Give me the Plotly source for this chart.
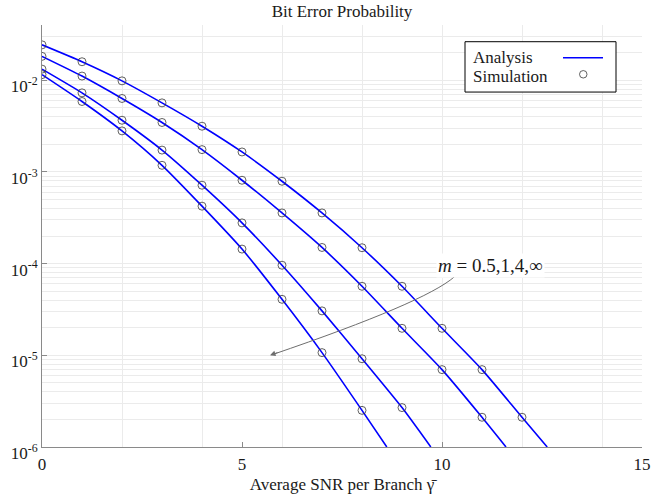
import plotly.graph_objects as go
import numpy as np

# ---------------- data ----------------
snr_sim = list(range(0, 13))

m_labels = ["m = 0.5", "m = 1", "m = 4", "m = ∞"]

# simulation points (circles)
sim_m05 = [0.0243, 0.0159, 0.00984, 0.00566, 0.00315, 0.00165, 7.91e-4, 3.57e-4,
           1.49e-4, 5.66e-5, 1.97e-5, 6.98e-6, 2.11e-6]
sim_m1 = [0.0182, 0.0111, 0.00632, 0.00346, 0.00175, 8.11e-4, 3.57e-4, 1.50e-4,
          5.66e-5, 1.97e-5, 6.98e-6, 2.11e-6]
sim_m4 = [0.0132, 0.00728, 0.00366, 0.00173, 7.16e-4, 2.78e-4, 9.6e-5, 3.05e-5,
          9.17e-6, 2.69e-6]
sim_inf = [0.0115, 0.00586, 0.00280, 0.00118, 4.23e-4, 1.44e-4, 4.08e-5, 1.07e-5,
           2.51e-6]

# analysis curves (last point where each leaves the plot)
ana_x_m05 = [0, 1, 2, 3, 4, 5, 6, 7, 8, 9, 10, 11, 12, 12.63]
ana_y_m05 = [0.0243, 0.0159, 0.00984, 0.00566, 0.00315, 0.00165, 7.91e-4, 3.57e-4,
             1.49e-4, 5.66e-5, 1.97e-5, 6.98e-6, 2.11e-6, 1.0e-6]
ana_x_m1 = [0, 1, 2, 3, 4, 5, 6, 7, 8, 9, 10, 11, 11.6]
ana_y_m1 = [0.0182, 0.0111, 0.00632, 0.00346, 0.00175, 8.11e-4, 3.57e-4, 1.50e-4,
            5.66e-5, 1.97e-5, 6.98e-6, 2.11e-6, 1.0e-6]
ana_x_m4 = [0, 1, 2, 3, 4, 5, 6, 7, 8, 9, 9.72]
ana_y_m4 = [0.0132, 0.00728, 0.00366, 0.00173, 7.16e-4, 2.78e-4, 9.6e-5, 3.05e-5,
            9.17e-6, 2.69e-6, 1.0e-6]
ana_x_inf = [0, 1, 2, 3, 4, 5, 6, 7, 8, 8.62]
ana_y_inf = [0.0115, 0.00586, 0.00280, 0.00118, 4.23e-4, 1.44e-4, 4.08e-5, 1.07e-5,
             2.51e-6, 1.0e-6]

x_tick_vals = [0, 5, 10, 15]
y_tick_vals = [1e-6, 1e-5, 1e-4, 1e-3, 1e-2]
y_tick_text = ["10<sup>-6</sup>", "10<sup>-5</sup>", "10<sup>-4</sup>",
               "10<sup>-3</sup>", "10<sup>-2</sup>"]

title_text = "Bit Error Probability"
x_title = "Average SNR per Branch γ\u0304"
annot_text = "<i>m</i> = 0.5,1,4,∞"
legend_names = ["Analysis", "Simulation"]

# ---------------- figure ----------------
FONT = "Liberation Serif"
BLUE = "#0000ff"
W, H = 654, 498
ML, MR, MT, MB = 42, 12, 25, 51.3
PW, PH = W - ML - MR, H - MT - MB

def px(x):
    return (x - ML) / PW

def py(y):
    return (H - MB - y) / PH

fig = go.Figure()

ana = [(ana_x_m05, ana_y_m05), (ana_x_m1, ana_y_m1), (ana_x_m4, ana_y_m4), (ana_x_inf, ana_y_inf)]
sims = [sim_m05, sim_m1, sim_m4, sim_inf]

for (ax_, ay_), lab in zip(ana, m_labels):
    fig.add_trace(go.Scatter(x=ax_, y=ay_, mode="lines", name=lab,
                             line=dict(color=BLUE, width=1.6, shape="spline", smoothing=0.6),
                             showlegend=False, hoverinfo="skip"))
for s, lab in zip(sims, m_labels):
    fig.add_trace(go.Scatter(x=snr_sim[:len(s)], y=s, mode="markers", name=lab,
                             marker=dict(symbol="circle-open", size=8,
                                         color="#3a3a3a", line=dict(width=0.8)),
                             showlegend=False))

minor_y = [k * 10.0 ** e for e in range(-6, -1) for k in range(1, 10)]
minor_y = [v for v in minor_y if v <= 0.0401]

fig.update_layout(
    width=W, height=H,
    margin=dict(l=ML, r=MR, t=MT, b=MB, autoexpand=False),
    paper_bgcolor="white", plot_bgcolor="white",
    font=dict(family=FONT, size=17, color="#1a1a1a"),
    title=dict(text=title_text, x=342 / W, xanchor="center", xref="container",
               y=1 - 5 / H, yanchor="top", yref="container", font=dict(size=17)),
    xaxis=dict(range=[0, 15], tickvals=x_tick_vals, showgrid=False, zeroline=False,
               automargin=False,
               showline=True, linecolor="#8a8a8a", linewidth=1,
               ticks="inside", ticklen=5, tickcolor="#8a8a8a",
               ticklabelstandoff=2,
               minor=dict(tick0=0, dtick=2, showgrid=True, gridcolor="#ebebeb",
                          gridwidth=1, ticks=""),
               title=dict(text=x_title, standoff=4, font=dict(size=17)),
               tickfont=dict(size=17)),
    yaxis=dict(type="log", range=[-6, np.log10(0.04)], tickvals=y_tick_vals,
               ticktext=y_tick_text, showgrid=True, gridcolor="#ebebeb",
               automargin=False,
               zeroline=False, showline=True, linecolor="#8a8a8a", linewidth=1,
               ticks="inside", ticklen=5, tickcolor="#8a8a8a",
               ticklabelshift=6,
               minor=dict(tickvals=minor_y, showgrid=True, gridcolor="#ebebeb",
                          gridwidth=1, ticks=""),
               tickfont=dict(size=17)),
)

# legend box (manual, symbols on the right as in the reference)
fig.add_shape(type="rect", xref="paper", yref="paper",
              x0=px(465), x1=px(616), y0=py(92), y1=py(41.7),
              line=dict(color="black", width=1), fillcolor="white", layer="above")
fig.add_annotation(xref="paper", yref="paper", x=px(471), y=py(57), text=legend_names[0],
                   showarrow=False, xanchor="left", yanchor="middle", font=dict(size=17))
fig.add_annotation(xref="paper", yref="paper", x=px(471), y=py(76), text=legend_names[1],
                   showarrow=False, xanchor="left", yanchor="middle", font=dict(size=17))
fig.add_shape(type="line", xref="paper", yref="paper",
              x0=px(563), x1=px(603), y0=py(57.7), y1=py(57.7),
              line=dict(color=BLUE, width=1.6), layer="above")
fig.add_shape(type="circle", xref="paper", yref="paper",
              x0=px(579.5), x1=px(587), y0=py(78), y1=py(70.5),
              line=dict(color="#3a3a3a", width=0.8), layer="above")

# curved arrow for the m annotation
p0 = (px(454.3), py(276.7))
c = (px(424.8), py(302.4))
p2 = (px(272), py(354.5))
fig.add_shape(type="path", xref="paper", yref="paper",
              path=f"M {p0[0]},{p0[1]} Q {c[0]},{c[1]} {p2[0]},{p2[1]}",
              line=dict(color="#6e6e6e", width=1))
fig.add_annotation(xref="paper", yref="paper", x=px(270), y=py(355), ax=9, ay=-3.1,
                   text="", showarrow=True, arrowhead=2, arrowsize=1.1, arrowwidth=1,
                   arrowcolor="#6e6e6e")
fig.add_annotation(xref="paper", yref="paper", x=px(436), y=py(265), text=annot_text,
                   showarrow=False, xanchor="left", yanchor="middle",
                   bgcolor="white", font=dict(size=19), borderpad=1)

fig.write_html("out.html", config={"displayModeBar": False},
               post_script="document.body.style.margin='0';document.body.style.overflow='hidden';")
